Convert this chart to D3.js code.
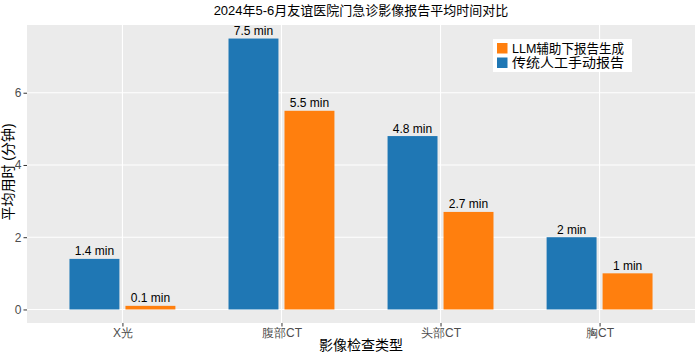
<!DOCTYPE html>
<html>
<head>
<meta charset="utf-8">
<script src="https://cdn.jsdelivr.net/npm/d3@7"></script>
<style>
  html, body { margin: 0; padding: 0; background: #ffffff; }
  svg { display: block; font-family: "Liberation Sans", Arial, "Noto Sans CJK SC", sans-serif; }
</style>
</head>
<body>
<svg id="chart" width="700" height="355"></svg>
<script>
const categories = ["X光", "腹部CT", "头部CT", "胸CT"];
const seriesNames = ["传统人工手动报告", "LLM辅助下报告生成"];
const manualValues = [1.4, 7.5, 4.8, 2];
const llmValues = [0.1, 5.5, 2.7, 1];
const yTicks = [0, 2, 4, 6];
const colors = ["#1f77b4", "#ff7f0e"];
const titleText = "2024年5-6月友谊医院门急诊影像报告平均时间对比";
const xTitle = "影像检查类型";
const yTitle = "平均用时 (分钟)";

const svg = d3.select("#chart");
const panel = { left: 27, right: 695, top: 25, bottom: 323 };

const maxV = d3.max([...manualValues, ...llmValues]);
const y = d3.scaleLinear()
  .domain([-0.05 * maxV, maxV * 1.05])
  .range([panel.bottom, panel.top]);
const x = d3.scaleLinear()
  .domain([0.4, categories.length + 0.6])
  .range([panel.left, panel.right]);

// panel background
svg.append("rect")
  .attr("x", panel.left).attr("y", panel.top)
  .attr("width", panel.right - panel.left).attr("height", panel.bottom - panel.top)
  .attr("fill", "#ebebeb");

// grid
svg.append("g").selectAll("line").data(yTicks).join("line")
  .attr("x1", panel.left).attr("x2", panel.right)
  .attr("y1", d => y(d)).attr("y2", d => y(d))
  .attr("stroke", "#ffffff").attr("stroke-width", 1.1);
svg.append("g").selectAll("line").data(categories).join("line")
  .attr("x1", (d, i) => x(i + 1)).attr("x2", (d, i) => x(i + 1))
  .attr("y1", panel.top).attr("y2", panel.bottom)
  .attr("stroke", "#ffffff").attr("stroke-width", 1.1);

// bars
const series = [manualValues, llmValues];
const offsets = [[-0.333, -0.019], [0.019, 0.333]];
const bars = [];
series.forEach((vals, s) => {
  vals.forEach((v, i) => bars.push({ s, i, v }));
});
const fmt = v => `${v} min`;

svg.append("g").selectAll("rect").data(bars).join("rect")
  .attr("x", d => x(d.i + 1 + offsets[d.s][0]))
  .attr("width", d => x(d.i + 1 + offsets[d.s][1]) - x(d.i + 1 + offsets[d.s][0]))
  .attr("y", d => y(d.v))
  .attr("height", d => y(0) - y(d.v))
  .attr("fill", d => colors[d.s]);

svg.append("g").selectAll("text").data(bars).join("text")
  .attr("x", d => (x(d.i + 1 + offsets[d.s][0]) + x(d.i + 1 + offsets[d.s][1])) / 2)
  .attr("y", d => y(d.v) - 3.5)
  .attr("text-anchor", "middle")
  .attr("font-size", 12)
  .attr("fill", "#000000")
  .text(d => fmt(d.v));

// y axis
const yAxis = d3.axisLeft(y).tickValues(yTicks).tickSize(3.5).tickPadding(2);
const gy = svg.append("g").attr("transform", `translate(${panel.left},0)`).call(yAxis);
gy.select(".domain").remove();
gy.selectAll("line").attr("stroke", "#333333");
gy.selectAll("text").attr("font-size", 12).attr("fill", "#4d4d4d")
  .attr("font-family", "\"Liberation Sans\", Arial, sans-serif");

// x axis
const xAxis = d3.axisBottom(x).tickValues(categories.map((c, i) => i + 1))
  .tickFormat((d, i) => categories[i]).tickSize(3.5).tickPadding(2);
const gx = svg.append("g").attr("transform", `translate(0,${panel.bottom})`).call(xAxis);
gx.select(".domain").remove();
gx.selectAll("line").attr("stroke", "#333333");
gx.selectAll("text").attr("font-size", 12).attr("fill", "#4d4d4d");

// titles
const cx = (panel.left + panel.right) / 2;
svg.append("text").attr("x", cx).attr("y", 15)
  .attr("text-anchor", "middle").attr("font-size", 13).attr("fill", "#000")
  .text(titleText);
svg.append("text").attr("x", cx).attr("y", 350)
  .attr("text-anchor", "middle").attr("font-size", 14).attr("fill", "#000")
  .text(xTitle);
svg.append("text")
  .attr("transform", `translate(13,${(panel.top + panel.bottom) / 2 - 2}) rotate(-90)`)
  .attr("text-anchor", "middle").attr("font-size", 14).attr("fill", "#000")
  .text(yTitle);

// legend
const legend = svg.append("g").attr("transform", "translate(493,39)");
legend.append("rect").attr("width", 139).attr("height", 33).attr("fill", "#ffffff");
const legendOrder = [1, 0];
legendOrder.forEach((s, k) => {
  legend.append("rect").attr("x", 4).attr("y", 4 + k * 14.5)
    .attr("width", 10.5).attr("height", 10.5).attr("fill", colors[s]);
  legend.append("text").attr("x", 19).attr("y", 13.5 + k * 14.5)
    .attr("font-size", 13).attr("fill", "#000")
    .attr("textLength", 112).attr("lengthAdjust", "spacingAndGlyphs")
    .text(seriesNames[s]);
});
</script>
</body>
</html>
